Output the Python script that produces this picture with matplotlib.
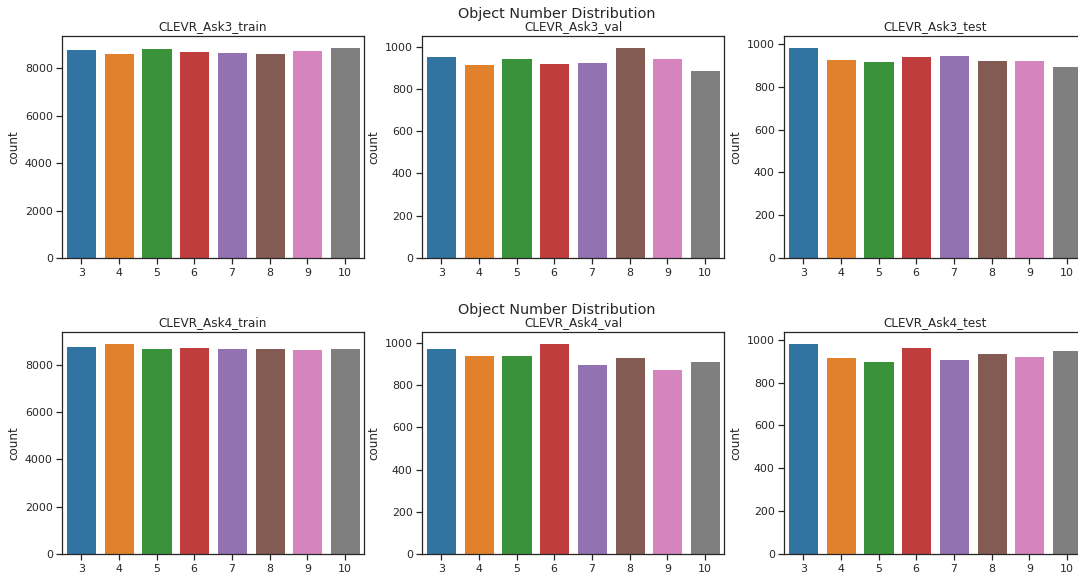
import matplotlib
matplotlib.use("Agg")
import matplotlib.pyplot as plt
import seaborn as sns

sns.set_style("ticks")
sns.set_context("notebook")
plt.rcParams['font.family'] = ['DejaVu Sans']

categories = ["3", "4", "5", "6", "7", "8", "9", "10"]

ask3_train = [8810, 8650, 8850, 8730, 8690, 8650, 8770, 8918]
ask3_val = [956, 918, 946, 923, 927, 1000, 946, 889]
ask3_test = [988, 931, 922, 946, 950, 927, 927, 899]
ask4_train = [8790, 8917, 8706, 8748, 8706, 8706, 8663, 8706]
ask4_val = [978, 944, 944, 1001, 902, 935, 878, 916]
ask4_test = [985, 919, 901, 966, 910, 938, 924, 952]

titles = [["CLEVR_Ask3_train", "CLEVR_Ask3_val", "CLEVR_Ask3_test"],
          ["CLEVR_Ask4_train", "CLEVR_Ask4_val", "CLEVR_Ask4_test"]]
data = [[ask3_train, ask3_val, ask3_test],
        [ask4_train, ask4_val, ask4_test]]
suptitle = "Object Number Distribution"

W, H = 1078, 577
fig = plt.figure(figsize=(W / 72, H / 72), dpi=72)

colors = [sns.desaturate(c, 0.75) for c in sns.color_palette("tab10", 8)]

lefts = [62.3, 422.3, 784.3]
width = 301.5
rows = [(36.0, 258.0), (332.3, 554.0)]
sup_y = [14.0, 310.0]

for r in range(2):
    top, bot = rows[r]
    for c in range(3):
        ax = fig.add_axes([lefts[c] / W, 1 - bot / H, width / W, (bot - top) / H])
        x = list(range(len(categories)))
        ax.bar(x, data[r][c], width=0.8, color=colors)
        ax.set_xticks(x)
        ax.set_xticklabels(categories)
        ax.set_xlim(-0.5, len(categories) - 0.5)
        ax.set_ylabel("count")
        ax.set_title(titles[r][c])
    fig.text(557 / W, 1 - sup_y[r] / H, suptitle, ha="center", va="center",
             fontsize="large", color=".15")

fig.savefig("out.png", dpi=72)
